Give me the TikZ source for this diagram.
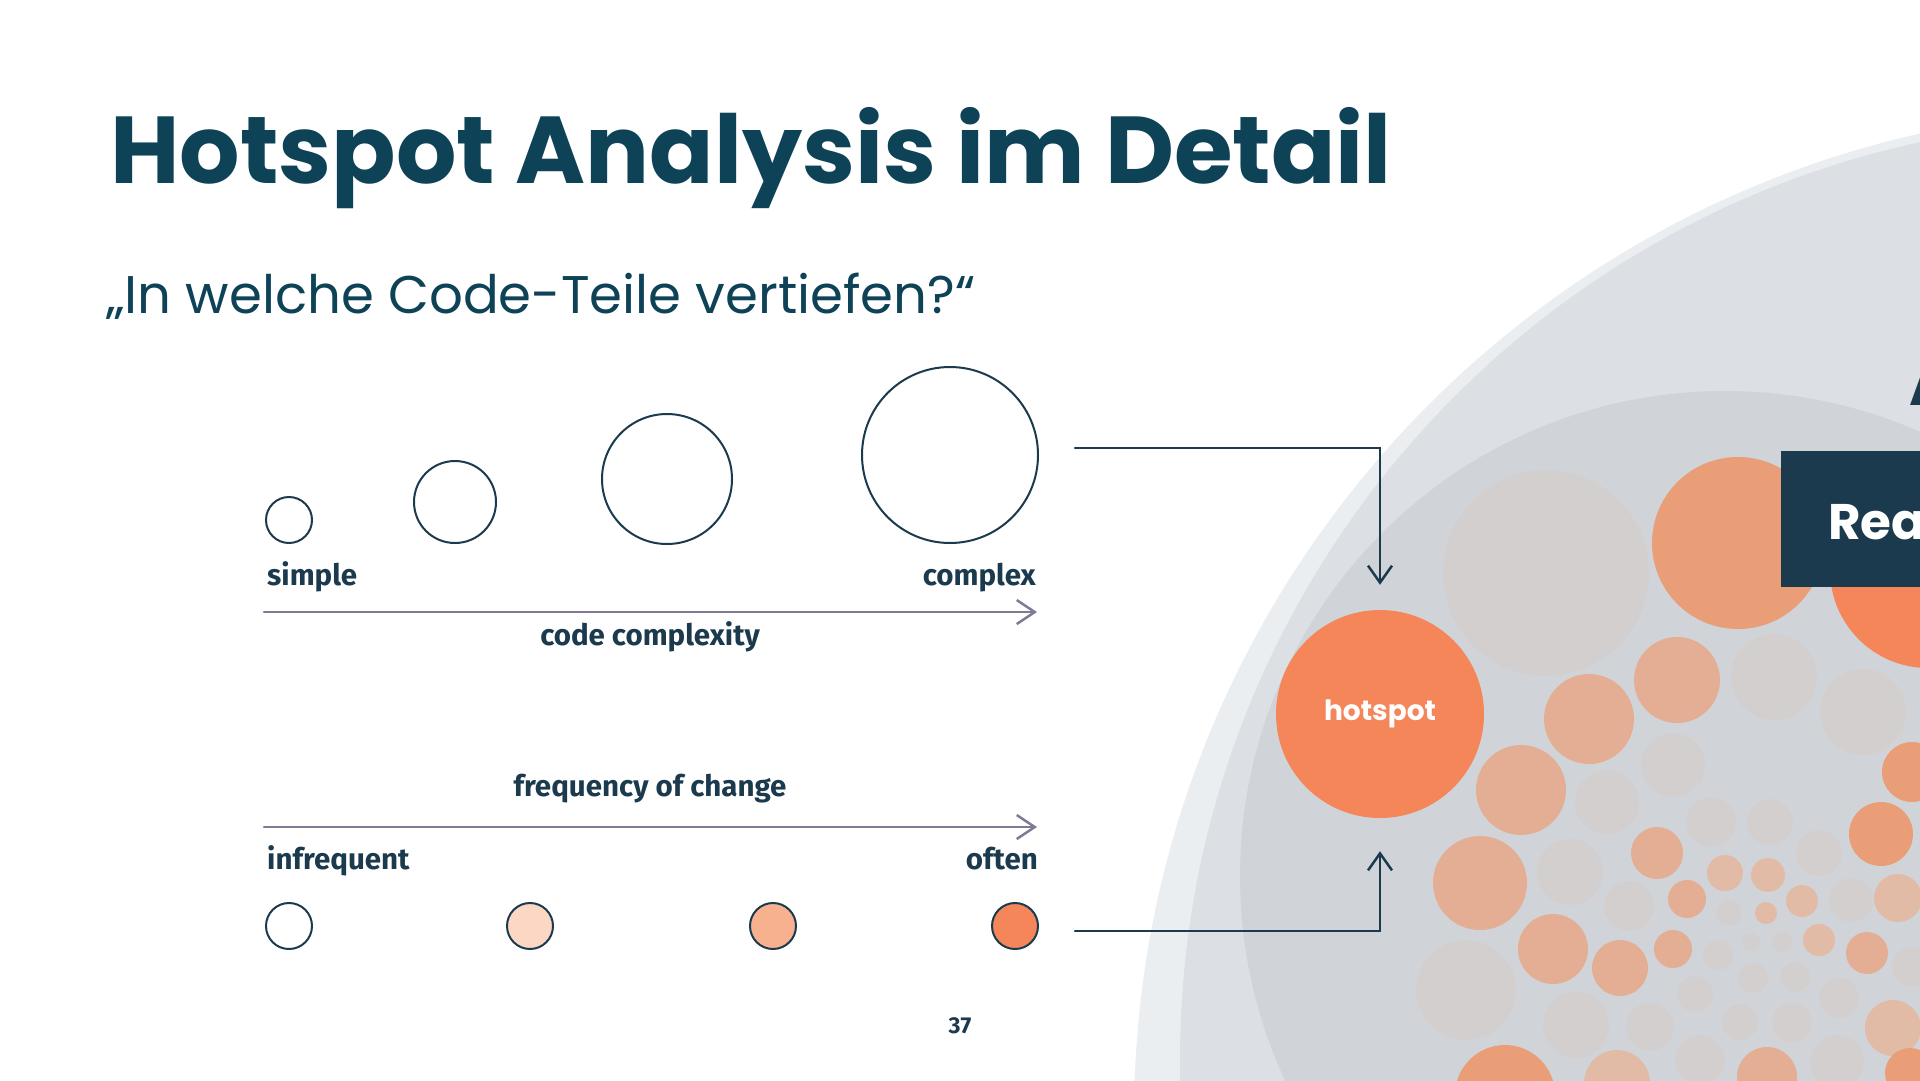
\documentclass[tikz,border=0pt]{standalone}
\usepackage{fontspec}
\setmainfont{Poppins}
\newfontfamily\labelfont{Fira Sans}
\usetikzlibrary{arrows.meta}
\definecolor{titleblue}{HTML}{0D4257}
\definecolor{ink}{HTML}{1C3A4E}
\definecolor{axisgray}{HTML}{807A95}
\definecolor{hot}{HTML}{F4865A}
\definecolor{warm}{HTML}{E99E78}
\definecolor{salmon}{HTML}{E3AE93}
\definecolor{salmonlight}{HTML}{E2BBA6}
\definecolor{bubgray}{HTML}{D4CFCF}
\definecolor{peachA}{HTML}{FBD7C4}
\definecolor{peachB}{HTML}{F7B18E}
\definecolor{ringA}{HTML}{EBEEF1}
\definecolor{ringB}{HTML}{DCDFE3}
\definecolor{ringC}{HTML}{D0D4D9}
\begin{document}
\begin{tikzpicture}[x=1pt,y=-1pt,line cap=round]
        % Styles
        \tikzstyle{size circle}=[circle,draw=ink,line width=2pt,inner sep=0pt]
        \tikzstyle{change circle}=[size circle,minimum size=46pt]
        \tikzstyle{axis line}=[draw=axisgray,line width=2.5pt,-{Straight Barb[length=18pt,width=24pt,line width=2.5pt]}]
        \tikzstyle{label text}=[text=ink,inner sep=0pt,font=\labelfont\bfseries\fontsize{29.5}{29.5}\selectfont]
        \tikzstyle{link}=[draw=ink,line width=2.5pt,-{Straight Barb[length=17pt,width=24pt,line width=2.5pt]}]
        %The graphic
        \clip (0,0) rectangle (1920,1080);
        \fill[white] (0,0) rectangle (1920,1080);
        %title
        \node[anchor=base west,inner sep=0pt,text=titleblue,font=\bfseries\fontsize{95}{95}\selectfont] (title) at (110,183) {Hotspot Analysis im Detail};
        \node[anchor=base west,inner sep=0pt,text=titleblue,font=\fontsize{53}{53}\selectfont] (subtitle) at (106,313) {„In welche Code-Teile vertiefen?“};
        %rings
        \fill[ringA] (2142,1117) circle (1008pt);
        \fill[ringB] (2119,1060) circle (939pt);
        \fill[ringC] (1725,876) circle (485pt);
        %bubbles
        \foreach \x/\y/\r/\c in {1546/573/103/bubgray, 1607/802/32/bubgray, 1673/765/32/bubgray, 1711/822/25/bubgray,
            1774/677/43/bubgray, 1863/712/43/bubgray, 1570/872/33/bubgray, 1629/906/25/bubgray, 1466/990/50/bubgray,
            1576/1025/33/bubgray, 1650/1027/24/bubgray, 1695/994/18/bubgray, 1700/1060/25/bubgray, 1770/822/23/bubgray,
            1819/853/23/bubgray, 1729/913/13/bubgray, 1718/955/15/bubgray, 1751/942/9/bubgray, 1782/942/10/bubgray,
            1851/900/22/bubgray, 1912/967/20/bubgray, 1753/978/15/bubgray, 1795/977/15/bubgray, 1839/998/20/bubgray,
            1740/1022/18/bubgray, 1792/1023/20/bubgray, 1837/1062/27/bubgray,
            1589/719/45/salmon, 1677/680/43/salmon, 1521/790/45/salmon, 1480/883/47/salmon, 1553/949/35/salmon,
            1620/968/28/salmon, 1657/853/26/salmon, 1687/899/19/salmon, 1673/949/19/salmon, 1725/873/18/salmonlight,
            1768/875/17/salmonlight, 1766/913/11/salmonlight, 1802/901/16/salmonlight, 1819/940/16/salmonlight,
            1867/953/21/salmon, 1617/1083/33/salmonlight, 1767/1077/30/salmon, 1893/1028/28/salmonlight, 1898/898/24/salmonlight,
            1738/543/86/warm, 1912/772/30/warm, 1881/834/32/warm, 1505/1095/50/warm, 1910/1073/25/warm,
            1928/570/98/hot}
            \fill[\c] (\x,\y) circle (\r pt);
        \node[anchor=north west,fill=ink,minimum width=200pt,minimum height=136pt,inner sep=0pt] (box) at (1781,451) {};
        \node[anchor=base west,inner sep=0pt,text=white,font=\bfseries\fontsize{50}{50}\selectfont] (box text) at (1828,539) {Rea};
        \node[anchor=base west,inner sep=0pt,text=ink,font=\bfseries\fontsize{64}{64}\selectfont] (heading) at (1909,405) {A};
        %code complexity
        \foreach \name/\x/\y/\r in {c1/289/520/23, c2/455/502/41, c3/667/479/65, c4/950/455/88}
            \node[size circle,minimum size=2*\r pt] (\name) at (\x,\y) {};
        \coordinate (cx start) at (264,612);
        \coordinate (cx end) at (1037,612);
        \draw[style=axis line] (cx start) -- (cx end);
        \node[label text,anchor=base west] (simple) at (267,585) {simple};
        \node[label text,anchor=base east] (complex) at (1036,585) {complex};
        \node[label text,anchor=base] (cx label) at (650,645) {code complexity};
        %frequency of change
        \coordinate (fq start) at (264,827);
        \coordinate (fq end) at (1037,827);
        \draw[style=axis line] (fq start) -- (fq end);
        \node[label text,anchor=base] (fq label) at (650,796) {frequency of change};
        \node[label text,anchor=base west] (infrequent) at (267,869) {infrequent};
        \node[label text,anchor=base east] (often) at (1038,869) {often};
        \foreach \name/\x/\c in {f1/289/white, f2/530/peachA, f3/773/peachB, f4/1015/hot}
            \node[change circle,fill=\c] (\name) at (\x,926) {};
        %hotspot
        \node[circle,fill=hot,minimum size=208pt,inner sep=0pt,text=white,font=\bfseries\fontsize{28}{28}\selectfont] (hotspot) at (1380,714) {hotspot};
        \coordinate (top start) at (1075,448);
        \coordinate (bottom start) at (1075,931);
        \draw[style=link,shorten >=25pt] (top start) -| (hotspot.north);
        \draw[style=link,shorten >=33pt] (bottom start) -| (hotspot.south);
        \node[label text,font=\labelfont\bfseries\fontsize{23}{23}\selectfont] (page) at (960,1026) {37};
\end{tikzpicture}
\end{document}
